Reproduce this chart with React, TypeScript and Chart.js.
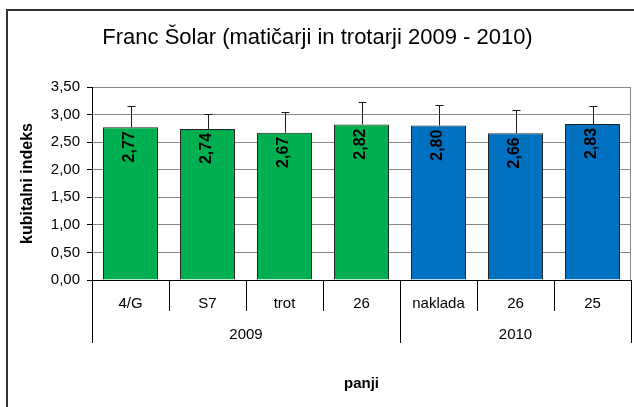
import React, { useEffect, useRef } from 'react';
import { Chart, registerables } from 'chart.js';

Chart.register(...registerables);

const categories = ['4/G', 'S7', 'trot', '26', 'naklada', '26', '25'];
const values = [2.77, 2.74, 2.67, 2.82, 2.8, 2.66, 2.83];
const errors = [0.39, 0.27, 0.38, 0.41, 0.37, 0.42, 0.32];
const barColors = ['#00B050', '#00B050', '#00B050', '#00B050', '#0070C0', '#0070C0', '#0070C0'];
const yearLabels = ['2009', '2010'];
const yearSpans = [4, 3];
const yMin = 0;
const yMax = 3.5;
const yStep = 0.5;

const FONT = "'Liberation Sans', Arial, sans-serif";

const fmt = (v: number) => v.toFixed(2).replace('.', ',');

const decorPlugin = {
  id: 'decor',
  afterDatasetsDraw(chart: any) {
    const { ctx, scales } = chart;
    const y = scales.y;
    const meta = chart.getDatasetMeta(0);
    ctx.save();
    // error bars
    ctx.strokeStyle = '#1a1a1a';
    ctx.lineWidth = 1;
    meta.data.forEach((bar: any, i: number) => {
      const cx = Math.round(bar.x) + 0.5;
      const yt = Math.round(y.getPixelForValue(values[i] + errors[i])) + 0.5;
      ctx.beginPath();
      ctx.moveTo(cx, bar.y);
      ctx.lineTo(cx, yt);
      ctx.moveTo(cx - 4, yt);
      ctx.lineTo(cx + 4, yt);
      ctx.stroke();
    });
    // value labels
    ctx.font = `bold 16px ${FONT}`;
    ctx.fillStyle = '#000';
    ctx.textAlign = 'right';
    ctx.textBaseline = 'middle';
    meta.data.forEach((bar: any, i: number) => {
      ctx.save();
      ctx.translate(bar.x - 0.5, bar.y + 4);
      ctx.rotate(-Math.PI / 2);
      ctx.fillText(fmt(values[i]), 0, 0);
      ctx.restore();
    });
    ctx.restore();
  },
  afterDraw(chart: any) {
    const { ctx, chartArea, scales } = chart;
    const x = scales.x;
    ctx.save();
    // right border of plot area
    ctx.strokeStyle = '#868686';
    ctx.lineWidth = 1;
    ctx.beginPath();
    ctx.moveTo(Math.round(chartArea.right) - 0.5, chartArea.top);
    ctx.lineTo(Math.round(chartArea.right) - 0.5, chartArea.bottom);
    ctx.stroke();
    // year groups
    const catW = x.getPixelForValue(1) - x.getPixelForValue(0);
    let start = 0;
    const bottom = chartArea.bottom;
    ctx.strokeStyle = '#000';
    ctx.font = `15px ${FONT}`;
    ctx.fillStyle = '#000';
    ctx.textAlign = 'center';
    ctx.textBaseline = 'middle';
    const drawSep = (px: number) => {
      const xx = Math.round(px) + 0.5;
      ctx.beginPath();
      ctx.moveTo(xx, bottom);
      ctx.lineTo(xx, bottom + 63);
      ctx.stroke();
    };
    yearLabels.forEach((lab, gi) => {
      const l = x.getPixelForValue(start) - catW / 2;
      const r = x.getPixelForValue(start + yearSpans[gi] - 1) + catW / 2;
      if (gi === 0) drawSep(l);
      drawSep(r);
      ctx.fillText(lab, (l + r) / 2, bottom + 54.5);
      start += yearSpans[gi];
    });
    // outer frame
    ctx.strokeStyle = '#333';
    ctx.lineWidth = 2;
    ctx.strokeRect(7, 10, 800, 800);
    ctx.restore();
  },
};

export default function App() {
  const ref = useRef<HTMLCanvasElement | null>(null);
  useEffect(() => {
    document.body.style.margin = '0';
    const canvas = ref.current;
    if (!canvas) return;
    const chart = new Chart(canvas, {
      type: 'bar',
      data: {
        labels: categories,
        datasets: [
          {
            data: values,
            backgroundColor: barColors,
            borderColor: '#222',
            borderWidth: 1,
            barPercentage: 0.714,
            categoryPercentage: 1,
          },
        ],
      },
      options: {
        responsive: false,
        animation: false,
        devicePixelRatio: 1,
        layout: { padding: { left: 4, right: 3, top: 0, bottom: 0 } },
        plugins: {
          legend: { display: false },
          tooltip: { enabled: false },
          title: {
            display: true,
            text: 'Franc Šolar (matičarji in trotarji 2009 - 2010)',
            color: '#000',
            font: { family: FONT, size: 22, weight: 'normal', lineHeight: 1.2 },
            padding: { top: 25.2, bottom: 35.4 },
          },
        },
        scales: {
          x: {
            offset: true,
            grid: {
              offset: true,
              drawOnChartArea: false,
              drawTicks: true,
              tickLength: 31,
              tickColor: '#000',
              color: '#000',
            },
            border: { display: true, color: '#000' },
            ticks: {
              color: '#000',
              font: { family: FONT, size: 15 },
              padding: -16.5,
              maxRotation: 0,
              autoSkip: false,
            },
            title: {
              display: true,
              text: 'panji',
              color: '#000',
              font: { family: FONT, size: 15, weight: 'bold' },
              padding: { top: 0, bottom: 14 },
            },
            afterFit: (s: any) => {
              s.height = 127;
            },
          },
          y: {
            min: yMin,
            max: yMax,
            ticks: {
              stepSize: yStep,
              color: '#000',
              font: { family: FONT, size: 15 },
              padding: 7,
              callback: (v: any) => fmt(Number(v)),
            },
            grid: { color: '#868686', tickColor: '#000', tickLength: 5 },
            border: { color: '#000' },
            title: {
              display: true,
              text: 'kubitalni indeks',
              color: '#000',
              font: { family: FONT, size: 16, weight: 'bold' },
              padding: { top: 14.4, bottom: 0 },
            },
            afterFit: (s: any) => {
              s.width = 88;
            },
          },
        },
      },
      plugins: [decorPlugin],
    } as any);
    return () => chart.destroy();
  }, []);
  return (
    <div style={{ position: 'absolute', left: 0, top: 0, width: 634, height: 407 }}>
      <canvas ref={ref} width={634} height={407} style={{ display: 'block' }} />
    </div>
  );
}
